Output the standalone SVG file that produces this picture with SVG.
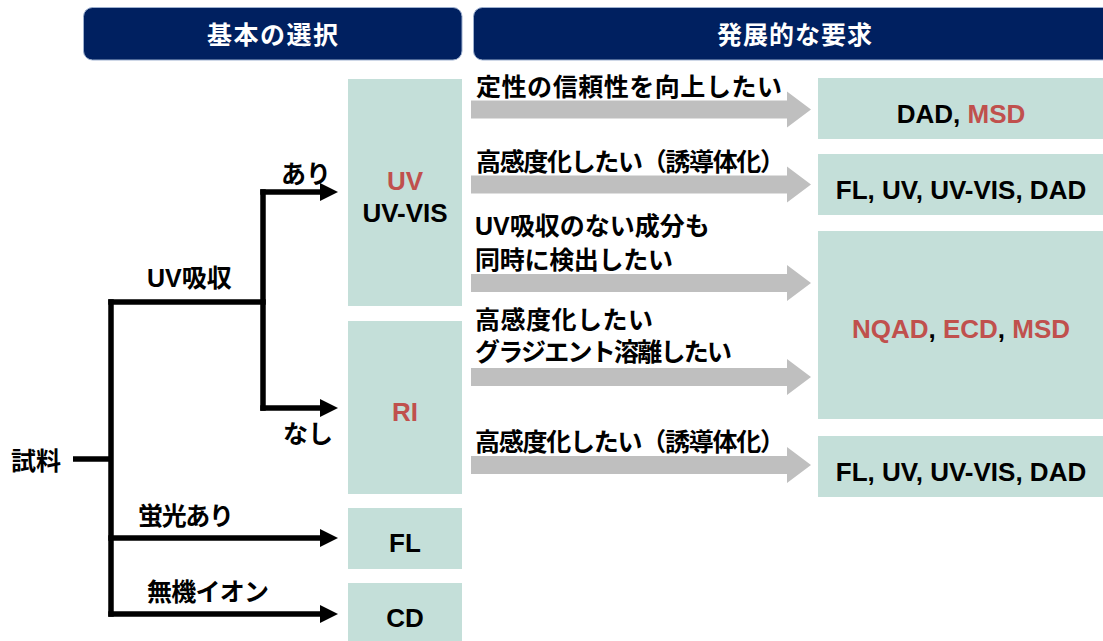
<svg xmlns="http://www.w3.org/2000/svg" width="1103" height="641" viewBox="0 0 1103 641">
<style>
.hdr{fill:#002060;stroke:#9DB0CF;stroke-width:1}
.ht{fill:#fff;font-family:"Noto Sans CJK JP",sans-serif;font-weight:bold;font-size:25px}
.box{fill:#C4DFD9}
.bt{font-family:"Liberation Sans",Arial,sans-serif;font-weight:bold;font-size:26px;fill:#000;text-anchor:middle}
.red{fill:#C0504D}
.lb{font-family:"Liberation Sans","Noto Sans CJK JP",sans-serif;font-weight:bold;font-size:25px;fill:#000}
.ln{fill:none;stroke:#000;stroke-width:5.5}
.blk{fill:#BFBFBF}
</style>
<defs>
<marker id="ah" markerUnits="userSpaceOnUse" markerWidth="18" markerHeight="18" refX="1" refY="9" orient="auto">
<path d="M0,0 L18,9 L0,18 Z" fill="#000"/>
</marker>
<path id="garrow" d="M471,-9 H787 V-18 L811,0 L787,18 V9 H471 Z"/>
</defs>
<rect width="1103" height="641" fill="#fff"/>

<g id="header-basic">
<rect class="hdr" x="83.5" y="7.5" width="378.5" height="52.5" rx="9"/>
<text class="ht" x="207" y="44" textLength="131" lengthAdjust="spacing">基本の選択</text>
</g>
<g id="header-advanced">
<rect class="hdr" x="473.5" y="7.5" width="650" height="52.5" rx="9"/>
<text class="ht" x="717" y="44" textLength="155" lengthAdjust="spacing">発展的な要求</text>
</g>

<g id="connectors">
<path class="ln" d="M73,459 H111"/>
<path class="ln" d="M111,299.25 V616.75"/>
<path class="ln" d="M108.25,302 H265.75"/>
<path class="ln" d="M263,189.25 V410.75"/>
<path class="ln" d="M260.25,192 H321" marker-end="url(#ah)"/>
<path class="ln" d="M260.25,408 H321" marker-end="url(#ah)"/>
<path class="ln" d="M108.25,538 H321" marker-end="url(#ah)"/>
<path class="ln" d="M108.25,614 H321" marker-end="url(#ah)"/>
<use href="#garrow" class="blk" y="109.5"/>
<use href="#garrow" class="blk" y="184.5"/>
<use href="#garrow" class="blk" y="283"/>
<use href="#garrow" class="blk" y="377"/>
<use href="#garrow" class="blk" y="465"/>
</g>

<g id="labels-left">
<text class="lb" x="11" y="470">試料</text>
<text class="lb" x="147" y="287">UV吸収</text>
<text class="lb" x="281" y="183">あり</text>
<text class="lb" x="283" y="443">なし</text>
<text class="lb" x="138" y="525" textLength="96" lengthAdjust="spacing">蛍光あり</text>
<text class="lb" x="147" y="601" textLength="122" lengthAdjust="spacing">無機イオン</text>
</g>

<g id="node-uv">
<rect class="box" x="348" y="79" width="114" height="227"/>
<text class="bt red" x="405" y="190">UV</text>
<text class="bt" x="405" y="222">UV-VIS</text>
</g>
<g id="node-ri">
<rect class="box" x="348" y="321" width="114" height="173"/>
<text class="bt red" x="405" y="421">RI</text>
</g>
<g id="node-fl">
<rect class="box" x="348" y="508" width="114" height="61"/>
<text class="bt" x="405" y="552">FL</text>
</g>
<g id="node-cd">
<rect class="box" x="348" y="583" width="114" height="60"/>
<text class="bt" x="405" y="627">CD</text>
</g>

<g id="labels-right">
<text class="lb" x="476" y="96" textLength="306" lengthAdjust="spacing">定性の信頼性を向上したい</text>
<text class="lb" x="476" y="171" textLength="309" lengthAdjust="spacing">高感度化したい（誘導体化）</text>
<text class="lb" x="475" y="235">UV吸収のない成分も</text>
<text class="lb" x="475" y="269" textLength="198" lengthAdjust="spacing">同時に検出したい</text>
<text class="lb" x="475" y="329" textLength="178" lengthAdjust="spacing">高感度化したい</text>
<text class="lb" x="475" y="361" textLength="257" lengthAdjust="spacing">グラジエント溶離したい</text>
<text class="lb" x="475" y="451" textLength="310" lengthAdjust="spacing">高感度化したい（誘導体化）</text>
</g>

<g id="node-dad-msd">
<rect class="box" x="818" y="78" width="285" height="61"/>
<text class="bt" x="961" y="123">DAD, <tspan class="red">MSD</tspan></text>
</g>
<g id="node-fl-uv-1">
<rect class="box" x="818" y="154" width="285" height="61"/>
<text class="bt" x="961" y="199">FL, UV, UV-VIS, DAD</text>
</g>
<g id="node-nqad">
<rect class="box" x="818" y="231" width="285" height="188"/>
<text class="bt" x="961" y="338"><tspan class="red">NQAD</tspan>, <tspan class="red">ECD</tspan>, <tspan class="red">MSD</tspan></text>
</g>
<g id="node-fl-uv-2">
<rect class="box" x="818" y="436" width="285" height="61"/>
<text class="bt" x="961" y="481">FL, UV, UV-VIS, DAD</text>
</g>
</svg>
